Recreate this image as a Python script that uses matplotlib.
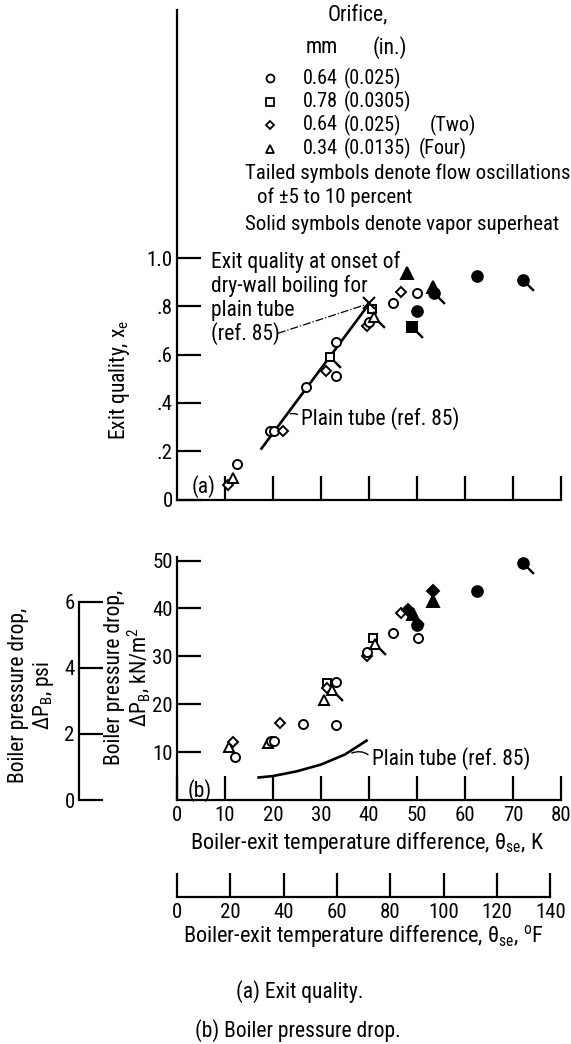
import matplotlib
matplotlib.use('Agg')
import matplotlib.pyplot as plt
from matplotlib.lines import Line2D
from matplotlib import font_manager as fm

# pick the narrowest sans that is installed (the original uses a condensed face)
names = {f.name for f in fm.fontManager.ttflist}
dejavu_cond = any(f.name == 'DejaVu Sans' and str(f.stretch) in ('condensed', 'semi-condensed', '75', '87')
                  for f in fm.fontManager.ttflist)
stretch = 'normal'
if 'Liberation Sans Narrow' in names:
    base = 'Liberation Sans Narrow'
elif 'Roboto Condensed' in names:
    base = 'Roboto Condensed'
elif dejavu_cond:
    base, stretch = 'DejaVu Sans', 'condensed'
elif 'Lato' in names:
    base = 'Lato'
else:
    base = 'DejaVu Sans'

plt.rcParams['font.family'] = [base, 'DejaVu Sans']
plt.rcParams['font.stretch'] = stretch
plt.rcParams['font.size'] = 15.5
plt.rcParams['mathtext.default'] = 'regular'

# --- data ---------------------------------------------------------------
# orifice codes: '0.64' single 0.64 mm, '0.78' 0.78 mm, '0.64x2' two 0.64 mm, '0.34x4' four 0.34 mm
# (a) exit quality
a_theta = [10.6, 11.7, 12.4, 19.4, 20.2, 22.1, 26.9, 31.1, 31.9, 33.1, 33.2, 39.6, 40.0,
           40.6, 41.0, 44.9, 46.7, 50.1, 48.0, 50.1, 48.9, 53.4, 53.5, 62.4, 72.0]
a_xe = [0.062, 0.091, 0.145, 0.283, 0.283, 0.283, 0.464, 0.533, 0.588, 0.654, 0.510, 0.718, 0.735,
        0.788, 0.757, 0.815, 0.858, 0.854, 0.937, 0.780, 0.716, 0.879, 0.856, 0.925, 0.909]
a_orifice = ['0.64x2', '0.34x4', '0.64', '0.64', '0.64', '0.64x2', '0.64', '0.64x2', '0.78', '0.64', '0.64',
             '0.64x2', '0.64', '0.78', '0.34x4', '0.64', '0.64x2', '0.64', '0.34x4', '0.64', '0.78',
             '0.34x4', '0.64', '0.64', '0.64']
a_superheat = [0, 0, 0, 0, 0, 0, 0, 0, 0, 0, 0, 0, 0, 0, 0, 0, 0, 0, 1, 1, 1, 1, 1, 1, 1]
a_oscill = [0, 0, 0, 0, 0, 0, 0, 0, 1, 0, 0, 0, 0, 0, 1, 0, 0, 0, 0, 0, 1, 0, 1, 0, 1]

# plain tube (ref. 85) and dry-wall onset point
a_plain_theta = [17.6, 40.1]
a_plain_xe = [0.211, 0.812]
onset_theta, onset_xe = 40.1, 0.812

# (b) boiler pressure drop, kN/m2
b_theta = [10.9, 11.6, 12.1, 18.9, 19.6, 20.3, 21.5, 26.3, 33.1, 30.7, 31.3, 31.2, 32.2, 33.1,
           39.5, 39.6, 40.8, 41.3, 44.9, 50.3, 46.6, 48.2, 49.2, 49.9, 53.3, 53.3, 62.4, 72.0]
b_dp = [11.0, 12.2, 8.9, 12.0, 12.4, 12.4, 16.0, 15.8, 15.7, 20.9, 24.4, 23.4, 23.0, 24.7,
        30.0, 31.0, 33.8, 32.6, 34.8, 33.8, 39.0, 39.7, 38.8, 36.5, 43.7, 41.6, 43.7, 49.4]
b_orifice = ['0.34x4', '0.64x2', '0.64', '0.34x4', '0.64', '0.64', '0.64x2', '0.64', '0.64', '0.34x4',
             '0.78', '0.64x2', '0.34x4', '0.64', '0.64x2', '0.64', '0.78', '0.34x4', '0.64', '0.64',
             '0.64x2', '0.64x2', '0.34x4', '0.64', '0.64x2', '0.34x4', '0.64', '0.64']
b_superheat = [0, 0, 0, 0, 0, 0, 0, 0, 0, 0, 0, 0, 0, 0, 0, 0, 0, 0, 0, 0, 0, 1, 1, 1, 1, 1, 1, 1]
b_oscill = [0, 0, 0, 0, 0, 0, 0, 0, 0, 0, 0, 0, 1, 0, 0, 0, 0, 1, 0, 0, 0, 0, 1, 0, 0, 0, 0, 1]

b_plain_theta = [17.0, 20.0, 25.0, 30.0, 35.0, 39.5]
b_plain_dp = [4.7, 5.0, 6.0, 7.4, 9.5, 12.4]

legend_mm = ['0.64', '0.78', '0.64', '0.34']
legend_in = ['(0.025)', '(0.0305)', '(0.025)', '(0.0135)']
legend_extra = ['', '', '(Two)', '(Four)']
legend_codes = ['0.64', '0.78', '0.64x2', '0.34x4']

MARKERS = {'0.64': 'o', '0.78': 's', '0.64x2': 'D', '0.34x4': '^'}
SIZES = {'0.64': 6.5, '0.78': 6.3, '0.64x2': 5.3, '0.34x4': 7.0}

W, H = 571, 1044
fig = plt.figure(figsize=(W / 100, H / 100), dpi=100)


def fx(px):
    return px / W


def fy(py):
    return 1 - py / H


def style_axis(ax):
    for s in ['top', 'right']:
        ax.spines[s].set_visible(False)
    for s in ['left', 'bottom']:
        ax.spines[s].set_linewidth(1.6)
    ax.tick_params(direction='in', length=17, width=1.6, pad=3, labelsize=15)
    ax.patch.set_visible(False)


def draw_points(ax, xs, ys, orifice, solid, tailed):
    for x, y, o, s, t in zip(xs, ys, orifice, solid, tailed):
        if t:
            ax.plot(x, y, marker=[(0, 0), (1, -1)], ms=15, mew=1.7, color='black',
                    ls='none', clip_on=False, zorder=2)
        ax.plot(x, y, marker=MARKERS[o], ms=SIZES[o] + (1.2 if s else 0),
                mfc='black' if s else 'white', mec='black', mew=1.4,
                ls='none', clip_on=False, zorder=3)


def leader(ax, text, xy, xytext):
    ax.annotate(text, xy=xy, xytext=xytext, va='center', ha='left',
                arrowprops=dict(arrowstyle='-', connectionstyle='arc3,rad=0.35', lw=1,
                                relpos=(0, 0.5), shrinkA=1, shrinkB=0))


# ---- panel (a) ----
ax_a = fig.add_axes([fx(177), fy(499.5), 384 / W, (499.5 - 10) / H])
ax_a.set_xlim(0, 80)
ax_a.set_ylim(0, (499.5 - 10) / 241.5)
style_axis(ax_a)
ax_a.set_xticks(range(10, 81, 10))
ax_a.set_xticklabels([])
ax_a.set_yticks([0, 0.2, 0.4, 0.6, 0.8, 1.0])
ax_a.set_yticklabels(['0', '.2', '.4', '.6', '.8', '1.0'])

ax_a.plot(a_plain_theta, a_plain_xe, color='black', lw=1.9, zorder=1)
draw_points(ax_a, a_theta, a_xe, a_orifice, a_superheat, a_oscill)
ax_a.plot(onset_theta, onset_xe, marker='x', ms=9, mew=1.5, color='black', zorder=4)

leader(ax_a, 'Plain tube (ref. 85)', (23.6, 0.355), (25.9, 0.336))
for i, line in enumerate(['Exit quality at onset of', 'dry-wall boiling for', 'plain tube', '(ref. 85)']):
    fig.text(fx(211), fy(262 + 24 * i), line, ha='left', va='center')
ax_a.plot([21.0, onset_theta], [0.688, onset_xe], color='black', lw=0.9, ls='-.', zorder=1)
ax_a.text(5.5, 0.053, '(a)', ha='center', va='center')
fig.text(fx(120), fy(380), 'Exit quality, x$_e$', rotation=90, ha='center', va='center')

# legend block
fig.text(fx(358), fy(15), 'Orifice,', ha='center', va='center')
fig.text(fx(322), fy(48), 'mm', ha='center', va='center')
fig.text(fx(390), fy(48), '(in.)', ha='center', va='center')
for i in range(4):
    yy = 78 + 23.5 * i
    fig.add_artist(Line2D([fx(270)], [fy(yy)], marker=MARKERS[legend_codes[i]],
                          ms=SIZES[legend_codes[i]] - 0.8, mfc='white', mec='black', mew=1.3,
                          transform=fig.transFigure))
    fig.text(fx(303), fy(yy), legend_mm[i], ha='left', va='center', fontsize=14.5)
    fig.text(fx(344), fy(yy), legend_in[i], ha='left', va='center', fontsize=14.5)
    if legend_extra[i]:
        fig.text(fx(430 if i == 2 else 419), fy(yy), legend_extra[i], ha='left', va='center',
                 fontsize=14.5)
fig.text(fx(245), fy(173), 'Tailed symbols denote flow oscillations', ha='left', va='center',
         fontsize=15)
fig.text(fx(257), fy(197), 'of \u00b15 to 10 percent', ha='left', va='center', fontsize=15)
fig.text(fx(245), fy(225), 'Solid symbols denote vapor superheat', ha='left', va='center',
         fontsize=15)

# ---- panel (b) ----
ax_b = fig.add_axes([fx(177), fy(800), 384 / W, (800 - 557) / H])
ax_b.set_xlim(0, 80)
ax_b.set_ylim(0, 243 / 4.79)
style_axis(ax_b)
ax_b.set_xticks(range(0, 81, 10))
ax_b.set_yticks(range(10, 51, 10))
ax_b.tick_params(axis='x', pad=4)

ax_b.plot(b_plain_theta, b_plain_dp, color='black', lw=1.9, zorder=1)
draw_points(ax_b, b_theta, b_dp, b_orifice, b_superheat, b_oscill)
leader(ax_b, 'Plain tube (ref. 85)', (36.4, 9.8), (40.6, 8.7))
ax_b.text(4.8, 1.9, '(b)', ha='center', va='center')

fig.text(fx(128), fy(677), 'Boiler pressure drop,\n\u0394P$_B$, kN/m$^2$', rotation=90,
         ha='center', va='center', linespacing=1.0)
fig.text(fx(32), fy(695), 'Boiler pressure drop,\n\u0394P$_B$, psi', rotation=90,
         ha='center', va='center', linespacing=1.1)
fig.text(fx(367), fy(843), 'Boiler-exit temperature difference, \u03b8$_{se}$, K',
         ha='center', va='center', fontsize=16)

# psi scale
ax_psi = fig.add_axes([fx(79), fy(800), 0.002, (800 - 557) / H])
ax_psi.set_ylim(0, 243 / 4.79 / 6.895)
for s in ['top', 'right', 'bottom']:
    ax_psi.spines[s].set_visible(False)
ax_psi.spines['left'].set_linewidth(1.6)
ax_psi.spines['left'].set_bounds(0, 6)
ax_psi.set_xticks([])
ax_psi.set_yticks([0, 2, 4, 6])
ax_psi.tick_params(direction='in', length=17, width=1.6, pad=3, labelsize=15)
ax_psi.patch.set_visible(False)

# deg F scale
ax_f = fig.add_axes([fx(177), fy(897), 384 / W, 0.002])
ax_f.set_xlim(0, 80 * 1.8)
for s in ['top', 'right', 'left']:
    ax_f.spines[s].set_visible(False)
ax_f.spines['bottom'].set_linewidth(1.6)
ax_f.spines['bottom'].set_bounds(0, 140)
ax_f.set_yticks([])
ax_f.set_xticks(range(0, 141, 20))
ax_f.tick_params(direction='in', length=17, width=1.6, pad=4, labelsize=15)
ax_f.patch.set_visible(False)
fig.text(fx(363), fy(937), 'Boiler-exit temperature difference, \u03b8$_{se}$, $^o$F',
         ha='center', va='center', fontsize=16)

fig.text(fx(300), fy(992), '(a) Exit quality.', ha='center', va='center')
fig.text(fx(298), fy(1031), '(b) Boiler pressure drop.', ha='center', va='center')

fig.savefig('out.png', dpi=100)
